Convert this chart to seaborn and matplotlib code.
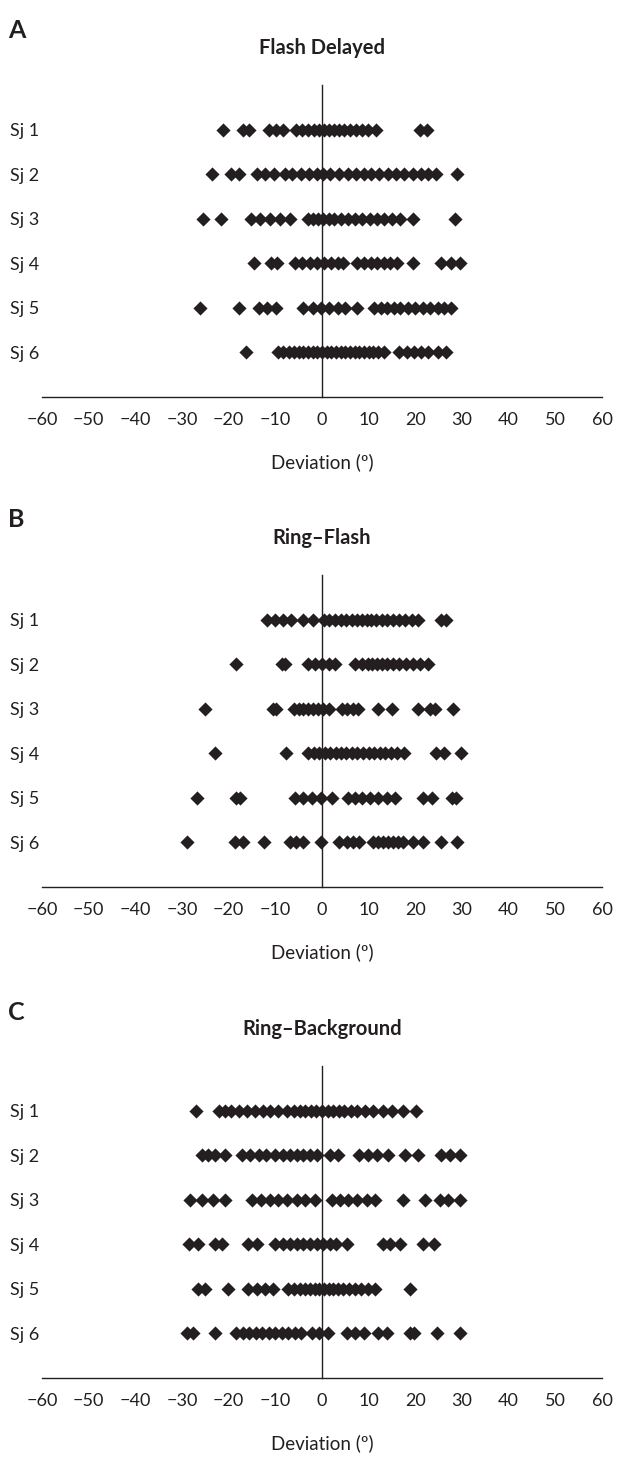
import matplotlib
matplotlib.use("Agg")
import matplotlib.pyplot as plt
import seaborn as sns
import pandas as pd

sns.set_style("white")
plt.rcParams["font.family"] = ["Lato", "DejaVu Sans"]

# ---------------- data ----------------
subjects = ["Sj 1", "Sj 2", "Sj 3", "Sj 4", "Sj 5", "Sj 6"]
panel_letters = ["A", "B", "C"]
panel_titles = ["Flash Delayed", "Ring\u2013Flash", "Ring\u2013Background"]
x_ticks = [-60, -50, -40, -30, -20, -10, 0, 10, 20, 30, 40, 50, 60]
x_label = "Deviation (\u00ba)"

flash_delayed = [
    [-21.3, -16.9, -15.6, -11.4, -9.9, -8.4, -5.6, -4.2, -3.0, -1.8, -0.6, 0.4, 1.5, 2.6,
     3.6, 4.8, 6.0, 7.2, 8.5, 9.8, 11.5, 21.0, 22.4],
    [-23.6, -19.6, -17.7, -13.9, -12.2, -10.2, -8.0, -6.4, -4.6, -2.8, -1.0, 0.2, 1.8, 3.6,
     5.5, 7.2, 8.9, 10.6, 12.3, 14.1, 15.8, 17.6, 19.4, 21.2, 22.7, 24.4, 28.9],
    [-25.5, -21.7, -15.2, -13.3, -11.1, -9.0, -6.9, -3.0, -1.9, -0.8, 0.3, 1.4, 2.6, 4.0,
     5.5, 7.0, 8.6, 10.2, 11.7, 13.3, 15.0, 16.8, 19.4, 28.5],
    [-14.6, -10.9, -9.6, -5.8, -4.2, -2.6, -1.0, 0.4, 1.9, 3.4, 4.6, 7.6, 9.0, 10.4, 11.8,
     13.2, 14.6, 16.1, 19.6, 25.6, 27.6, 29.6],
    [-26.1, -17.8, -13.5, -11.7, -9.9, -4.0, -2.0, -0.2, 1.6, 3.4, 5.0, 7.4, 11.2, 12.6,
     14.0, 15.4, 16.8, 18.4, 20.0, 21.6, 23.2, 24.8, 26.2, 27.6],
    [-16.3, -9.5, -8.3, -7.1, -6.0, -5.0, -4.0, -3.0, -2.0, -1.0, 0.0, 1.0, 2.0, 3.0, 4.0,
     5.0, 6.0, 7.0, 8.0, 9.0, 10.0, 11.0, 12.0, 13.2, 16.4, 18.3, 19.8, 21.3, 22.8, 24.8, 26.5],
]

ring_flash = [
    [-11.7, -10.1, -8.4, -6.6, -4.0, -2.0, 0.4, 1.6, 2.8, 4.0, 5.2, 6.4, 7.6, 8.6, 9.6,
     10.6, 11.6, 12.8, 14.0, 15.2, 16.5, 17.8, 19.2, 20.6, 25.4, 26.6],
    [-18.4, -8.6, -7.9, -3.1, -1.6, -0.1, 1.4, 2.8, 7.0, 8.5, 9.8, 10.8, 11.8, 12.8, 14.0,
     15.3, 16.6, 18.0, 19.4, 21.0, 22.8],
    [-25.1, -10.6, -9.8, -6.1, -5.0, -4.0, -2.9, -1.9, -0.8, 0.3, 1.4, 4.2, 5.3, 6.7, 7.8,
     11.9, 14.9, 20.5, 23.1, 24.3, 28.1],
    [-22.9, -7.7, -3.1, -1.8, -0.6, 0.6, 1.8, 3.0, 4.0, 5.2, 6.4, 7.6, 8.8, 10.0, 11.2,
     12.4, 13.6, 14.8, 16.0, 17.6, 24.4, 26.1, 29.7],
    [-26.7, -18.4, -17.6, -5.8, -4.0, -2.2, -0.3, 2.1, 5.6, 7.1, 8.5, 10.3, 12.1, 13.9,
     15.7, 21.7, 23.5, 27.9, 28.8],
    [-29.0, -18.6, -17.0, -12.4, -6.9, -5.6, -4.1, -0.3, 3.6, 5.3, 6.7, 8.0, 11.0, 12.0,
     13.1, 14.2, 15.3, 16.3, 17.4, 19.4, 21.6, 25.4, 29.0],
]

ring_background = [
    [-26.9, -22.0, -20.8, -19.4, -17.7, -16.1, -14.4, -12.6, -11.1, -9.4, -7.6, -6.1, -4.8,
     -3.6, -2.4, -1.2, 0.0, 1.2, 2.4, 3.6, 4.8, 6.2, 7.6, 9.2, 11.0, 13.1, 14.9, 17.4, 20.1],
    [-25.8, -24.4, -22.9, -20.8, -17.2, -15.4, -13.6, -11.9, -10.1, -8.3, -6.9, -5.4, -4.0,
     -2.6, -1.1, 1.7, 3.5, 8.0, 9.9, 11.7, 14.2, 17.8, 20.6, 25.4, 27.4, 29.6],
    [-28.3, -25.8, -23.3, -20.8, -15.1, -13.0, -11.1, -9.4, -7.6, -5.4, -3.6, -1.5, 2.1,
     3.9, 5.6, 7.4, 9.6, 11.4, 17.4, 22.1, 25.3, 27.1, 29.6],
    [-28.4, -26.5, -22.9, -21.5, -15.8, -14.0, -10.1, -8.3, -6.9, -5.4, -4.0, -2.6, -1.1,
     0.3, 1.7, 3.1, 5.3, 13.1, 14.6, 16.7, 21.7, 23.9],
    [-26.5, -25.1, -20.1, -15.8, -14.0, -12.2, -10.4, -7.2, -6.0, -4.8, -3.6, -2.6, -1.6,
     -0.6, 0.4, 1.4, 2.4, 3.4, 4.6, 5.8, 7.0, 8.4, 9.8, 11.4, 18.9],
    [-28.9, -27.6, -23.0, -18.5, -17.0, -15.6, -14.2, -12.8, -11.4, -10.0, -8.6, -7.2, -5.8,
     -4.4, -2.2, -0.6, 1.2, 5.3, 7.1, 8.9, 12.1, 13.9, 18.8, 19.8, 24.6, 29.6],
]

panels = [flash_delayed, ring_flash, ring_background]

# ---------------- figure ----------------
W, H = 618, 1462
fig = plt.figure(figsize=(W / 100, H / 100), dpi=100)

ax_left_px, ax_right_px = 42, 602
x_axis_px = [397, 887, 1378]
ax_height_px = 312
letter_y_px = [30, 520, 1012]

ink = "#231f20"

for p, (data, title, letter) in enumerate(zip(panels, panel_titles, panel_letters)):
    bottom = 1 - x_axis_px[p] / H
    ax = fig.add_axes([ax_left_px / W, bottom, (ax_right_px - ax_left_px) / W, ax_height_px / H])
    rows = []
    for i, vals in enumerate(data):
        for v in vals:
            rows.append({"subject": subjects[i], "row": len(subjects) - i, "deviation": v})
    df = pd.DataFrame(rows)
    sns.scatterplot(data=df, x="deviation", y="row", marker="D", s=52, color=ink,
                    linewidth=0, ax=ax, legend=False, zorder=3)

    ax.set_xlim(-60, 60)
    ax.set_ylim(0, 7)

    # vertical axis at x = 0 with a single tick at the top
    for s in ["top", "right"]:
        ax.spines[s].set_visible(False)
    ax.spines["left"].set_position(("data", 0))
    ax.spines["left"].set_bounds(0, 7)
    ax.spines["left"].set_color(ink)
    ax.spines["left"].set_linewidth(1.0)
    ax.spines["left"].set_zorder(4)
    ax.set_yticks([7])
    ax.tick_params(axis="y", length=5, width=1.0, color=ink, labelleft=False, direction="out")

    # subject labels on the left edge
    sec = ax.secondary_yaxis(0.0)
    sec.set_yticks([len(subjects) - i for i in range(len(subjects))], subjects)
    sec.tick_params(axis="y", length=0, pad=2, labelsize=13, labelcolor=ink)
    sec.spines["left"].set_visible(False)

    ax.spines["bottom"].set_color(ink)
    ax.spines["bottom"].set_linewidth(1.0)
    ax.set_xticks(x_ticks, [str(t).replace("-", "\u2212") for t in x_ticks])
    ax.tick_params(axis="x", length=5, width=1.0, color=ink, labelsize=13,
                   labelcolor=ink, pad=6, direction="out")

    ax.set_xlabel(x_label, fontsize=13.5, color=ink, labelpad=18)
    ax.set_ylabel("")
    ax.set_title(title, fontsize=14.5, fontweight="bold", color=ink, pad=22)

    fig.text(8 / W, 1 - letter_y_px[p] / H, letter, fontsize=18, fontweight="bold",
             color=ink, ha="left", va="center")

fig.savefig("out.png", dpi=100)
